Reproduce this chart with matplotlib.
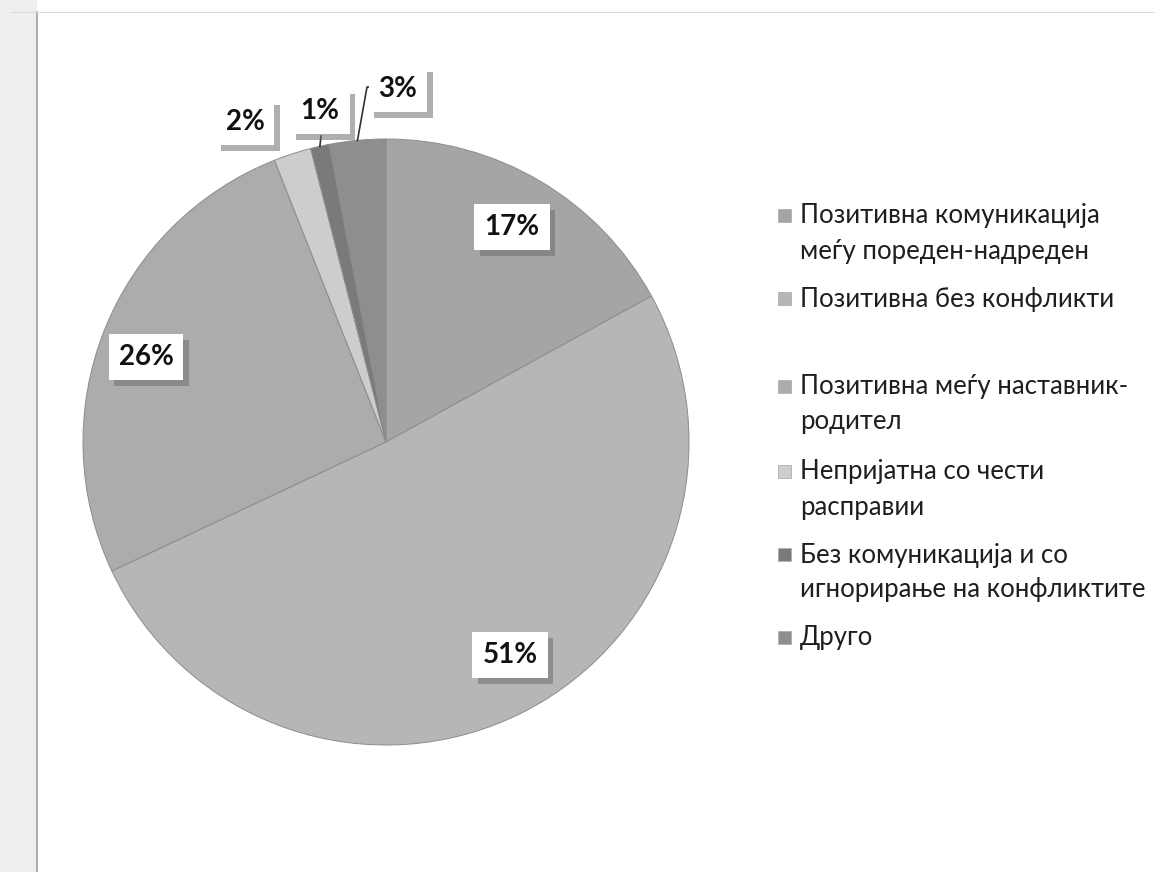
import numpy as np
import matplotlib
matplotlib.use("Agg")
import matplotlib.pyplot as plt
import matplotlib.patheffects as pe
from matplotlib.patches import Rectangle

# ── Data ───────────────────────────────────────────────────────────────────
categories = [
    "Позитивна комуникација\nмеѓу пореден-надреден",
    "Позитивна без конфликти",
    "Позитивна меѓу наставник-\nродител",
    "Непријатна со чести\nрасправии",
    "Без комуникација и со\nигнорирање на конфликтите",
    "Друго",
]
shares = [17, 51, 26, 2, 1, 3]

# grey shades, one per category
COLORS = ["#a5a5a5", "#b6b6b6", "#acacac", "#cdcdcd", "#7a7a7a", "#8e8e8e"]

FONT = ["Lato", "DejaVu Sans"]
W, H = 1164, 872

# pie geometry in pixels (y measured from top)
CX, CY, R = 386, 442, 303

# label box centres (pixels from top-left)
label_pos = [(512, 227), (510, 655), (146, 357), (245, 122), (320, 111), (398, 89)]
# leader points for the small slices that sit outside
leaders = {4: [(321, 136)], 5: [(367, 87), (377, 87)]}
# legend rows: first-line centre y per entry
legend_y = [216, 299, 387, 472, 555, 638]
LINE_H = 35


def py(y):
    return H - y


fig = plt.figure(figsize=(W / 100, H / 100), dpi=100)
fig.patch.set_facecolor("white")
ax = fig.add_axes([0, 0, 1, 1])

wedges, _ = ax.pie(
    shares,
    colors=COLORS,
    startangle=90,
    counterclock=False,
    center=(CX, py(CY)),
    radius=R,
    wedgeprops=dict(edgecolor="#8c8c8c", linewidth=0.7),
)
ax.set_xlim(0, W)
ax.set_ylim(0, H)
ax.set_aspect("equal")
ax.axis("off")

# scanned page edge on the left
ax.add_patch(Rectangle((0, 0), 37, H, facecolor="#efefef", edgecolor="none", zorder=0))
ax.plot([37, 37], [0, H - 12], color="#a0a0a0", lw=1.2, zorder=1)
ax.plot([10, W - 10], [H - 12, H - 12], color="#dcdcdc", lw=0.8, zorder=1)

# leader lines for the thin slices
for i, pts in leaders.items():
    w = wedges[i]
    mid = np.deg2rad((w.theta1 + w.theta2) / 2)
    x0 = CX + R * np.cos(mid)
    y0 = py(CY) + R * np.sin(mid)
    xs = [x0] + [p[0] for p in pts]
    ys = [y0] + [py(p[1]) for p in pts]
    ax.plot(xs, ys, color="#333333", lw=1.2, zorder=4)

# value labels: white box with a soft grey drop shadow
shadow = [pe.SimplePatchShadow(offset=(4, -4), shadow_rgbFace="#6e6e6e", alpha=0.55),
          pe.Normal()]
for v, (x, y) in zip(shares, label_pos):
    t = ax.text(x, py(y), f"{v}%", ha="center", va="center", fontsize=20,
                fontweight="bold", family=FONT, color="#111111", zorder=6,
                bbox=dict(boxstyle="square,pad=0.36", facecolor="white",
                          edgecolor="none"))
    t.get_bbox_patch().set_path_effects(shadow)

# legend drawn by hand so the uneven row spacing can be kept
for label, col, y in zip(categories, COLORS, legend_y):
    ax.add_patch(Rectangle((778, py(y) - 6.5), 13, 13, facecolor=col,
                           edgecolor="#b0b0b0", lw=0.6, zorder=5))
    for k, line in enumerate(label.split("\n")):
        ax.text(800, py(y + k * LINE_H), line, ha="left", va="center",
                fontsize=18.5, family=FONT, color="#1e1e1e", zorder=5)

fig.savefig("out.png", dpi=100, facecolor="white")
